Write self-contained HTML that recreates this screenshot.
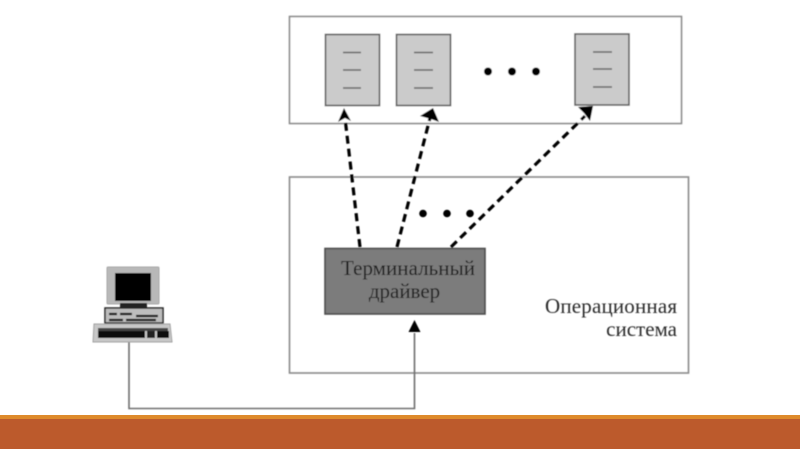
<!DOCTYPE html>
<html><head><meta charset="utf-8"><style>
html,body{margin:0;padding:0;background:#fff;width:800px;height:449px;overflow:hidden}
svg{display:block}
text{font-family:"Liberation Serif","DejaVu Serif",serif;font-size:21px;fill:#2a2a2a}
</style></head><body>
<svg width="800" height="449" viewBox="0 0 800 449" xmlns="http://www.w3.org/2000/svg">
<defs><filter id="b" x="-5%" y="-5%" width="110%" height="110%"><feGaussianBlur stdDeviation="0.45"/></filter></defs>
<rect x="0" y="0" width="800" height="449" fill="#fff"/>
<g filter="url(#b)">
<rect x="289.5" y="16.5" width="392" height="107" fill="#fff" stroke="#8a8a8a" stroke-width="1.6"/>
<rect x="325.5" y="34.5" width="54" height="71" fill="#cbcbcb" stroke="#5e5e5e" stroke-width="1.6"/>
<rect x="396.5" y="34.5" width="54" height="71" fill="#cbcbcb" stroke="#5e5e5e" stroke-width="1.6"/>
<rect x="575" y="34" width="54" height="71" fill="#cbcbcb" stroke="#5e5e5e" stroke-width="1.6"/>
<g stroke="#666" stroke-width="1.6">
<path d="M343 52.500h18M343 70h18M343 88h18"/>
<path d="M414 52.500h19M414 70h19M414 88h19"/>
<path d="M593 52h19M593 69h19M593 87h19"/>
</g>
<g fill="#000"><circle cx="488" cy="71.500" r="4"/><circle cx="512" cy="71.500" r="4"/><circle cx="536" cy="71.500" r="4"/>
<circle cx="423" cy="213.500" r="3.800"/><circle cx="447" cy="213.500" r="3.800"/><circle cx="470" cy="213.500" r="3.800"/></g>
<rect x="289.5" y="177" width="399" height="196" fill="none" stroke="#8a8a8a" stroke-width="1.6"/>
<rect x="325" y="248.500" width="160" height="65.500" fill="#7b7b7b" stroke="#4e4e4e" stroke-width="1.6"/>
<g stroke="#000" stroke-width="3.200" fill="none" stroke-dasharray="8 5">
<path d="M360 247L345 118"/>
<path d="M397 247L430 118"/>
<path d="M451 247L585 116"/>
</g>
<path d="M344 108L351 121L345 118L338 122Z" fill="#000"/>
<path d="M433 108L439 122L431 119L420 116Z" fill="#000"/>
<path d="M593 106L590 121L584 113L578 107Z" fill="#000"/>
<path d="M129 338V408.500H414.500V333" fill="none" stroke="#6e6e6e" stroke-width="1.6"/>
<path d="M414.500 320L420.500 332H408.500Z" fill="#000"/>
<!-- computer -->
<rect x="107" y="267" width="52" height="37" rx="1" fill="#b8b8b8" stroke="#a8a8a8"/>
<rect x="115" y="273" width="36" height="28" fill="#000"/>
<rect x="120" y="303" width="27" height="6" fill="#222"/>
<rect x="105" y="308" width="58" height="15" fill="#bdbdbd" stroke="#222" stroke-width="1.5"/>
<path d="M109 314h8M120 314h12M136 316h22M109 320h14M126 320h30" stroke="#111" stroke-width="2.200"/>
<path d="M94 324H170L172 342H93Z" fill="#c8c8c8" stroke="#a0a0a0"/>
<rect x="98" y="328" width="70" height="3" fill="#444"/>
<rect x="98" y="331" width="47" height="7" fill="#0c0c0c"/>
<rect x="147" y="331" width="8" height="7" fill="#222"/>
<rect x="157" y="331" width="12" height="7" fill="#111"/>
<text x="408" y="275" text-anchor="middle" textLength="134" style="fill:#1c1c1c">Терминальный</text>
<text x="404.500" y="298" text-anchor="middle" style="fill:#1c1c1c">драйвер</text>
<text x="677" y="313" text-anchor="end" textLength="132">Операционная</text>
<text x="677" y="336" text-anchor="end">система</text>
</g>
<rect x="0" y="415" width="800" height="4" fill="#de8a2b"/>
<rect x="0" y="419" width="800" height="30" fill="#bc5a2c"/>
</svg>
</body></html>
